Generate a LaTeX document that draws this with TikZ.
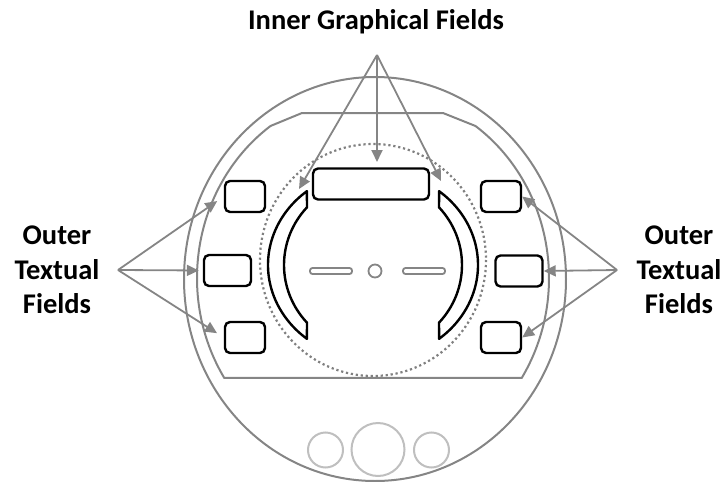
\documentclass[tikz,border=0pt]{standalone}
\usepackage{fontspec}
\setmainfont{Carlito}
\usepackage{tikz}
\usetikzlibrary{arrows.meta,calc}

\begin{document}
\begin{tikzpicture}[x=1pt, y=-1pt,
  rim/.style={draw=black!48, line width=2pt},
  knob/.style={draw=black!25, line width=2pt},
  ring/.style={draw=black!50, line width=2.2pt, dash pattern=on 2.2pt off 2.8pt},
  field/.style={draw, rounded corners=5pt, line width=2.4pt, inner sep=0pt,
                minimum height=31pt},
  bracket/.style={draw, line width=2.4pt, line join=round},
  slot/.style={draw=black!48, rounded corners=2.5pt, line width=1.8pt},
  pointer/.style={-{Triangle[length=12pt, width=11pt]}, line width=1.8pt,
                  black!48},
  caption/.style={font=\fontsize{28.5}{34.5}\selectfont\bfseries, align=center},
]
\useasboundingbox (0,0) rectangle (724,482);

% ================= housing =================
\draw[rim] (375,279) ellipse[x radius=191, y radius=202];
\draw[rim] (302,113) -- (443,113)
  -- ($(373,278)+(-54.4:176 and 187)$)
  arc[start angle=-54.4, end angle=32.3, x radius=176, y radius=187]
  -- ($(373,278)+(147.7:176 and 187)$)
  arc[start angle=147.7, end angle=234.4, x radius=176, y radius=187]
  -- cycle;

% dotted dial and the three knobs below
\draw[ring] (373,260) ellipse[x radius=113, y radius=116];
\draw[knob] (325.5,450) circle[radius=17.5];
\draw[knob] (378,449.5) circle[radius=26.5];
\draw[knob] (431.5,450) circle[radius=17.5];

% ================= inner graphical fields =================
\node[field, minimum width=116pt] (gtop) at (371,184) {};

\begin{scope}[shift={(373,265)}]
  \draw[bracket] (231:105 and 95)
    arc[start angle=231, end angle=129, x radius=105, y radius=95]
    -- (137.9:89 and 86)
    arc[start angle=137.9, end angle=222.1, x radius=89, y radius=86]
    -- cycle;
  \draw[bracket] (-51:105 and 95)
    arc[start angle=-51, end angle=51, x radius=105, y radius=95]
    -- (42.1:89 and 86)
    arc[start angle=42.1, end angle=-42.1, x radius=89, y radius=86]
    -- cycle;
\end{scope}

% centre mark
\draw[slot] (310,268) rectangle (352,274);
\draw[slot] (403,268) rectangle (445,274);
\draw[slot] (375,271) circle[radius=6.5];

% ================= outer textual fields =================
\node[field, minimum width=40pt] (tl) at (245,196.5) {};
\node[field, minimum width=47pt] (ml) at (227.5,270.5) {};
\node[field, minimum width=40pt] (bl) at (245,337.5) {};
\node[field, minimum width=40pt] (tr) at (501,196.5) {};
\node[field, minimum width=47pt] (mr) at (519,271) {};
\node[field, minimum width=40pt] (br) at (501,337.5) {};

% ================= labels and pointers =================
\node[caption, anchor=base] (igf) at (376,29) {Inner Graphical Fields};
\node[caption] (otfl) at (57,270) {Outer\\Textual\\Fields};
\node[caption] (otfr) at (679,270) {Outer\\Textual\\Fields};

\coordinate (igfa) at (377,55);
\coordinate (ltip) at (118,270);
\coordinate (rtip) at (617,270);
\coordinate (gl) at (299,189);
\coordinate (gc) at (377,162);
\coordinate (gr) at (441,181);

\foreach \t in {gl, gc, gr}
  \draw[pointer] (igfa) -- (\t);
\foreach \b/\s in {tl/8pt, ml/4pt, bl/8pt}
  \draw[pointer, shorten >=\s] (ltip) -- (\b.west);
\foreach \b in {tr, mr, br}
  \draw[pointer] (rtip) -- (\b.east);

\end{tikzpicture}
\end{document}
